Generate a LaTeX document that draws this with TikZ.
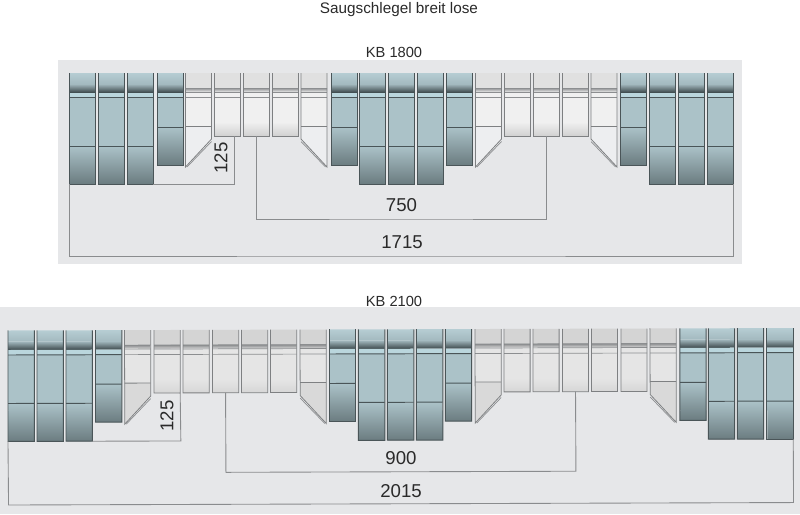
\documentclass[tikz,border=0pt]{standalone}
\usepackage{fontspec}
\setmainfont{Liberation Sans}
\usetikzlibrary{fit,positioning}
\definecolor{panelgrey}{HTML}{E6E7E9}
\definecolor{dimgrey}{HTML}{8A8C8E}
\definecolor{bluetop}{HTML}{B6CDD3}
\definecolor{bluemid}{HTML}{A3B9BF}
\definecolor{bluedark}{HTML}{3C484B}
\definecolor{bluelight}{HTML}{BAD6DD}
\definecolor{bluebody}{HTML}{ABC2C8}
\definecolor{bluelow}{HTML}{6B7C80}
\definecolor{blueedge}{HTML}{4A5558}
\definecolor{whiteedge}{HTML}{7E8082}
\definecolor{whiteband}{HTML}{8C8E90}
\definecolor{labelgrey}{HTML}{2A2A2A}
\tikzset{
    colnode/.style={inner sep=0pt,outer sep=0pt},
    blueline/.style={draw=blueedge,line width=0.55pt},
    whiteline/.style={draw=whiteedge,line width=0.45pt},
    bandline/.style={draw=whiteband,line width=0.4pt},
    dimline/.style={draw=dimgrey,line width=0.5pt},
    headlabel/.style={inner sep=0pt,text=labelgrey,font=\fontsize{8.35}{10}\selectfont},
    titlelabel/.style={inner sep=0pt,text=labelgrey,font=\fontsize{8.7}{10}\selectfont},
    dimlabel/.style={inner sep=0pt,text=labelgrey,font=\fontsize{10.6}{12}\selectfont}
}
% name, x, split, bottom
\newcommand{\bluecol}[4]{
    \coordinate (#1tl) at (#2,-73);
    \coordinate (#1br) at (#2+26,-#4);
    \node [colnode,fit=(#1tl)(#1br)] (#1) {};
    \shade [top color=bluetop,bottom color=bluemid] (#2,-73) rectangle (#2+26,-84);
    \shade [top color=bluemid,bottom color=bluedark] (#2,-84) rectangle (#2+26,-92.5);
    \fill [bluelight] (#2,-92.5) rectangle (#2+26,-97.5);
    \fill [bluebody] (#2,-97.5) rectangle (#2+26,-#3);
    \shade [top color=bluebody,bottom color=bluelow] (#2,-#3) rectangle (#2+26,-#4);
    \draw [blueline] (#2,-97.5) -- (#2+26,-97.5);
    \draw [blueline] (#2,-#3) -- (#2+26,-#3);
    \draw [blueline] (#1.north west) -- (#1.south west) -- (#1.south east) -- (#1.north east);
}
% bands of a light column
\newcommand{\lightbands}[1]{
    \shade [top color=lighttop,middle color=lightbody,bottom color=lighttop] (#1,-73) rectangle (#1+26,-88);
    \shade [top color=whiteband,bottom color=lighttop] (#1,-88) rectangle (#1+26,-91.5);
    \draw [bandline] (#1,-88) -- (#1+26,-88);
    \draw [bandline] (#1,-92) -- (#1+26,-92);
    \draw [bandline] (#1,-97.5) -- (#1+26,-97.5);
}
% name, x
\newcommand{\whitecol}[2]{
    \coordinate (#1tl) at (#2,-73);
    \coordinate (#1br) at (#2+26,-136);
    \node [colnode,fit=(#1tl)(#1br)] (#1) {};
    \shade [top color=lightbody,bottom color=lightlow] (#2,-122) rectangle (#2+26,-136);
    \fill [lightbody] (#2,-92) rectangle (#2+26,-122);
    \lightbands{#2}
    \draw [whiteline] (#1.north west) -- (#1.south west) -- (#1.south east) -- (#1.north east);
}
% name, x, long side is the left one
\newcommand{\wedgeright}[2]{
    \coordinate (#1tl) at (#2,-73);
    \coordinate (#1br) at (#2+26,-167);
    \node [colnode,fit=(#1tl)(#1br)] (#1) {};
    \fill [lightbody] (#2,-92) rectangle (#2+26,-126);
    \fill [wedgefill] (#2,-126) -- (#2,-167) -- (#2+26,-139) -- (#2+26,-126) -- cycle;
    \lightbands{#2}
    \draw [whiteline] (#2,-126) -- (#2+26,-126);
    \draw [whiteline] (#1.north west) -- (#2,-167) -- (#2+26,-139) -- (#1.north east);
    \draw [bandline] (#2+1.5,-167) -- (#2+26,-141.5);
}
% name, x, long side is the right one
\newcommand{\wedgeleft}[2]{
    \coordinate (#1tl) at (#2,-73);
    \coordinate (#1br) at (#2+26,-167);
    \node [colnode,fit=(#1tl)(#1br)] (#1) {};
    \fill [lightbody] (#2,-92) rectangle (#2+26,-126);
    \fill [wedgefill] (#2,-126) -- (#2,-139) -- (#2+26,-167) -- (#2+26,-126) -- cycle;
    \lightbands{#2}
    \draw [whiteline] (#2,-126) -- (#2+26,-126);
    \draw [whiteline] (#1.north west) -- (#2,-139) -- (#2+26,-167) -- (#1.north east);
    \draw [bandline] (#2,-141.5) -- (#2+24.5,-167);
}
\begin{document}
\begin{tikzpicture}[x=0.02cm,y=0.02cm]
    \useasboundingbox (0,0) rectangle (800,-514);
    \fill [white] (0,0) rectangle (800,-514);
    \node [titlelabel] (title) at (399,-10) {Saugschlegel breit lose};

    % KB 1800
    \fill [panelgrey] (58,-60) rectangle (742,-264);
    \node [headlabel] (headA) at (394,-52.5) {KB 1800};
    \colorlet{lighttop}{white!88!black}
    \colorlet{lightbody}{white!94!black}
    \colorlet{lightlow}{white!82!black}
    \colorlet{wedgefill}{panelgrey!70!white}
    \bluecol{a1}{69}{146}{184}
    \bluecol{a2}{98}{146}{184}
    \bluecol{a3}{127}{146}{184}
    \bluecol{a4}{157}{127}{165}
    \wedgeright{a5}{185.5}
    \whitecol{a6}{214}
    \whitecol{a7}{243}
    \whitecol{a8}{272}
    \wedgeleft{a9}{301}
    \bluecol{a10}{331}{127}{165}
    \bluecol{a11}{359}{146}{184}
    \bluecol{a12}{388}{146}{184}
    \bluecol{a13}{417}{146}{184}
    \bluecol{a14}{446.5}{127}{165}
    \wedgeright{a15}{475.5}
    \whitecol{a16}{504}
    \whitecol{a17}{533}
    \whitecol{a18}{562}
    \wedgeleft{a19}{591}
    \bluecol{a20}{620.5}{127}{165}
    \bluecol{a21}{649}{146}{184}
    \bluecol{a22}{678}{146}{184}
    \bluecol{a23}{707}{146}{184}
    \coordinate (endA) at (234.5,-136);
    \coordinate (lineA) at (401,-219);
    \coordinate (baseA) at (401,-256);
    \draw [dimline] (a3.south east) -| (endA);
    \draw [dimline] (a7.south) |- (lineA) -| (a17.south);
    \draw [dimline] (a1.south west) |- (baseA) -| (a23.south east);
    \node [dimlabel,rotate=90] (shortA) at (221,-158) {125};
    \node [dimlabel] (midA) at (401.5,-205) {750};
    \node [dimlabel] (longA) at (402,-242) {1715};

    % KB 2100
    \fill [panelgrey] (0,-307) rectangle (800,-514);
    \node [headlabel] (headB) at (394,-301) {KB 2100};
    \colorlet{lighttop}{white!83!black}
    \colorlet{lightbody}{white!90!black}
    \colorlet{lightlow}{white!84!black}
    \colorlet{wedgefill}{white!85!black}
    \begin{scope}[shift={(0,-257.5)},rotate around={0.18:(8,-73)}]
        \bluecol{b1}{8}{146}{184}
        \bluecol{b2}{37}{146}{184}
        \bluecol{b3}{66}{146}{184}
        \bluecol{b4}{95.5}{127}{165}
        \wedgeright{b5}{124.5}
        \whitecol{b6}{154}
        \whitecol{b7}{183}
        \whitecol{b8}{212.5}
        \whitecol{b9}{241.5}
        \whitecol{b10}{270.5}
        \wedgeleft{b11}{300}
        \bluecol{b12}{329.5}{127}{165}
        \bluecol{b13}{358.5}{146}{184}
        \bluecol{b14}{387.5}{146}{184}
        \bluecol{b15}{416.5}{146}{184}
        \bluecol{b16}{445.5}{127}{165}
        \wedgeright{b17}{475}
        \whitecol{b18}{504}
        \whitecol{b19}{533}
        \whitecol{b20}{562.5}
        \whitecol{b21}{591.5}
        \whitecol{b22}{621}
        \wedgeleft{b23}{650}
        \bluecol{b24}{680}{127}{165}
        \bluecol{b25}{708.5}{146}{184}
        \bluecol{b26}{737.5}{146}{184}
        \bluecol{b27}{767}{146}{184}
        \coordinate (cornerB) at (180.5,-184);
        \coordinate (lineBl) at (225.5,-215.5);
        \coordinate (lineBr) at (575.5,-215.5);
        \coordinate (baseBl) at (8,-247.5);
        \coordinate (baseBr) at (793,-247.5);
    \end{scope}
    \draw [dimline] (b3.south east) -- (cornerB) -- (b6.south east);
    \draw [dimline] (b8.south) -- (lineBl) -- (lineBr) -- (b20.south);
    \draw [dimline] (b1.south west) -- (baseBl) -- (baseBr) -- (b27.south east);
    \node [dimlabel,rotate=90] (shortB) at (167,-416) {125};
    \node [dimlabel] (midB) at (401,-458) {900};
    \node [dimlabel] (longB) at (401,-491) {2015};
\end{tikzpicture}
\end{document}
